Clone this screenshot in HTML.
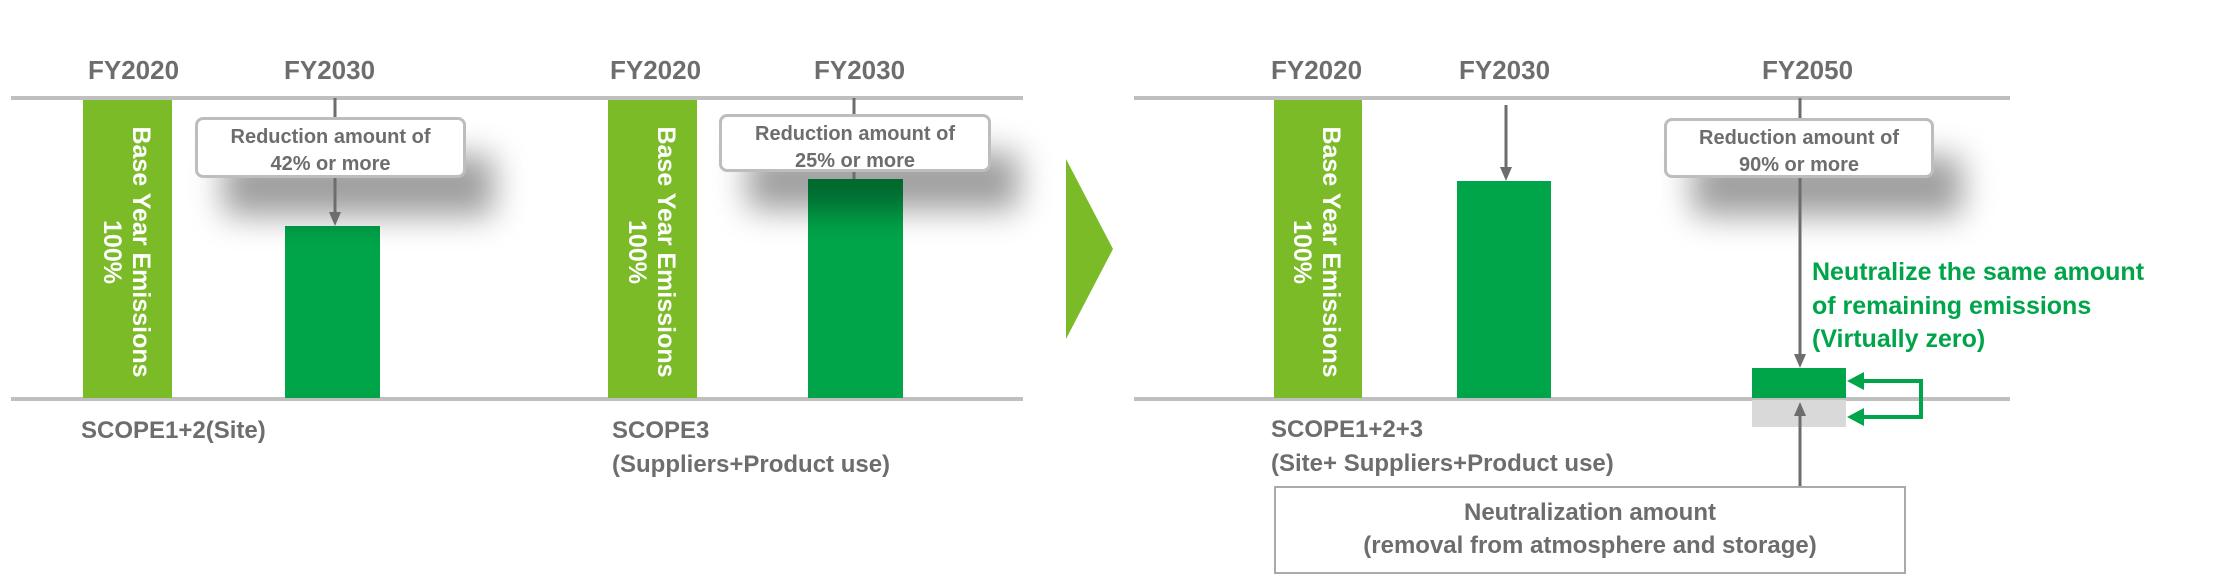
<!DOCTYPE html>
<html><head><meta charset="utf-8"><style>
body{margin:0;width:2219px;height:578px;background:#fff;position:relative;overflow:hidden;font-family:"Liberation Sans",sans-serif;}
.a{position:absolute;}
.fy{position:absolute;top:55px;font-size:26px;font-weight:bold;color:#6d6d6d;line-height:30px;}
.lb{position:absolute;font-size:24px;font-weight:bold;color:#6d6d6d;line-height:34px;white-space:nowrap;}
.light{position:absolute;background:#7cbb28;top:100px;height:298px;}
.dark{position:absolute;background:#00a54a;}
.vt{position:absolute;color:#fff;font-weight:bold;font-size:25px;line-height:29px;white-space:nowrap;transform-origin:0 0;transform:rotate(90deg);text-align:center;}
.box{position:absolute;background:#fff;border:3px solid #bdbdbd;border-radius:8px;box-shadow:28px 38px 32px rgba(0,0,0,0.38);color:#6d6d6d;font-weight:bold;font-size:20px;line-height:27px;text-align:center;box-sizing:border-box;padding-top:4px;}
</style></head><body>
<svg class="a" style="left:0;top:0" width="2219" height="578">
<g stroke="#bfbfbf" stroke-width="4">
<line x1="11" y1="98" x2="1023" y2="98"/><line x1="11" y1="399" x2="1023" y2="399"/>
<line x1="1134" y1="98" x2="2010" y2="98"/><line x1="1134" y1="399" x2="2010" y2="399"/>
</g>
<g stroke="#6d6d6d" stroke-width="3">
<line x1="335" y1="98" x2="335" y2="120"/>
<line x1="854" y1="98" x2="854" y2="120"/>
<line x1="1800" y1="98" x2="1800" y2="120"/>
</g>
</svg>
<div class="light" style="left:83px;width:89px"></div>
<div class="light" style="left:608px;width:89px"></div>
<div class="light" style="left:1274px;width:88px"></div>
<div class="vt" style="left:155px;top:112px;width:280px">Base Year Emissions<br>100%</div>
<div class="vt" style="left:680px;top:112px;width:280px">Base Year Emissions<br>100%</div>
<div class="vt" style="left:1345px;top:112px;width:280px">Base Year Emissions<br>100%</div>
<div class="dark" style="left:285px;top:226px;width:95px;height:172px"></div>
<div class="dark" style="left:808px;top:179px;width:95px;height:219px"></div>
<div class="dark" style="left:1457px;top:181px;width:94px;height:217px"></div>
<div class="dark" style="left:1752px;top:368px;width:94px;height:30px"></div>
<div class="a" style="left:1752px;top:400px;width:94px;height:27px;background:#d9d9d9"></div>
<div class="box" style="left:195px;top:117px;width:271px;height:61px">Reduction amount of<br>42% or more</div>
<div class="box" style="left:719px;top:114px;width:272px;height:58px">Reduction amount of<br>25% or more</div>
<div class="box" style="left:1664px;top:118px;width:270px;height:60px">Reduction amount of<br>90% or more</div>
<svg class="a" style="left:0;top:0" width="2219" height="578">
<g stroke="#6d6d6d" stroke-width="3" fill="none">
<line x1="335" y1="178" x2="335" y2="214"/>
<line x1="854" y1="172" x2="854" y2="179"/>
<line x1="1506" y1="105" x2="1506" y2="169"/>
<line x1="1800" y1="178" x2="1800" y2="356"/>
<line x1="1800" y1="486" x2="1800" y2="414"/>
</g>
<g fill="#6d6d6d">
<path d="M329,212 L341,212 L335,226z"/>
<path d="M1500,167 L1512,167 L1506,181z"/>
<path d="M1794,354 L1806,354 L1800,368z"/>
<path d="M1794,416 L1806,416 L1800,402z"/>
</g>
<g stroke="#00a54a" stroke-width="4" fill="none">
<polyline points="1860,381 1921,381 1921,417 1860,417"/>
</g>
<path d="M1847,381 L1864,372 L1864,390z M1847,417 L1864,408 L1864,426z" fill="#00a54a"/>
<path d="M1066,159 L1113,249 L1066,339z" fill="#7cbb28"/>
</svg>
<div class="fy" style="left:88px">FY2020</div>
<div class="fy" style="left:284px">FY2030</div>
<div class="fy" style="left:610px">FY2020</div>
<div class="fy" style="left:814px">FY2030</div>
<div class="fy" style="left:1271px">FY2020</div>
<div class="fy" style="left:1459px">FY2030</div>
<div class="fy" style="left:1762px">FY2050</div>
<div class="lb" style="left:81px;top:414px">SCOPE1+2(Site)</div>
<div class="lb" style="left:612px;top:414px">SCOPE3<br>(Suppliers+Product use)</div>
<div class="lb" style="left:1271px;top:413px">SCOPE1+2+3<br>(Site+ Suppliers+Product use)</div>
<div class="a" style="left:1812px;top:256px;font-size:25px;font-weight:bold;color:#00a54a;line-height:33.5px;white-space:nowrap">Neutralize the same amount<br>of remaining emissions<br>(Virtually zero)</div>
<div class="a" style="left:1274px;top:486px;width:632px;height:88px;border:2px solid #aaa;box-sizing:border-box;text-align:center;color:#6d6d6d;font-weight:bold;font-size:24px;line-height:33px;padding-top:8px">Neutralization amount<br>(removal from atmosphere and storage)</div>
</body></html>
